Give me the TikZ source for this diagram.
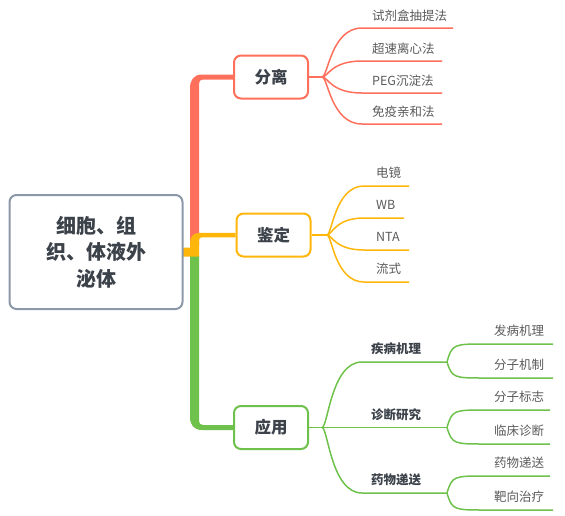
\documentclass[tikz,border=0pt]{standalone}
\usepackage{fontspec}
\setmainfont{Noto Sans CJK SC}
\definecolor{cred}{RGB}{255,112,92}
\definecolor{corg}{RGB}{255,182,10}
\definecolor{cgrn}{RGB}{110,194,76}
\definecolor{cbox}{RGB}{140,152,170}
\definecolor{ctxt}{RGB}{60,66,74}
\definecolor{cleaf}{RGB}{90,90,90}
\begin{document}
\begin{tikzpicture}[x=1pt,y=-1pt,
  mainbox/.style={draw=cbox, line width=2pt, rounded corners=7pt, fill=white, minimum width=173pt, minimum height=114pt, align=center, text=ctxt, font=\fontsize{20}{26.5}\selectfont\bfseries},
  topic/.style={line width=2pt, rounded corners=7pt, fill=white, minimum width=74pt, minimum height=43pt, text=ctxt, font=\fontsize{16.5}{18}\selectfont\bfseries},
  leaf/.style={inner sep=0pt, text=cleaf, font=\fontsize{12.5}{14}\selectfont, anchor=west},
  sub/.style={inner sep=0pt, text=ctxt, font=\fontsize{12.5}{14}\selectfont\bfseries},
  br/.style={line width=1.5pt}
]
\useasboundingbox (0,0) rectangle (565,515);

\node[topic, draw=cred] (fl) at (271,77) {分离};
\node[topic, draw=corg] (jd) at (273.5,235) {鉴定};
\node[topic, draw=cgrn] (yy) at (271,427.5) {应用};

% trunks (filled shapes from the central box to the topic boxes)
\fill[cred] (190,246) -- (190,88) .. controls (190,80) and (194,74.5) .. (202,74.5)
  -- (fl.west |- 0,74.5) -- (fl.west |- 0,79.5) -- (203,79.5)
  .. controls (200.5,79.5) and (199,81) .. (199,83.5) -- (199,246) -- cycle;
\fill[cgrn] (190,256) -- (190,417) .. controls (190,425) and (194,430) .. (202,430)
  -- (yy.west |- 0,430) -- (yy.west |- 0,425) -- (203,425)
  .. controls (200.5,425) and (199,423.5) .. (199,421) -- (199,256) -- cycle;
\fill[corg] (175,247.5) -- (190,247.5) -- (190,243) .. controls (190,237) and (193,232.8) .. (200,232.8)
  -- (jd.west |- 0,232.8) -- (jd.west |- 0,237.3) -- (202,237.3)
  .. controls (200,237.3) and (199,238.5) .. (199,240) -- (199,256.5) -- (175,256.5) -- cycle;

\node[mainbox] (c) at (96,252) {细胞、组\\织、体液外\\泌体};

% red leaves
\coordinate (jf) at (322,77);
\draw[br, cred] (fl.east) -- (jf);
\foreach \y/\e/\t [count=\i] in {28/453/试剂盒抽提法, 61/442/超速离心法, 93/442/PEG沉淀法, 124/442/免疫亲和法} {
  \node[leaf] (f\i) at (372,\y-12) {\t};
  \draw[br, cred] (jf) .. controls (328,77) and (331,\y) .. (362,\y) -- (\e,\y);
}

% orange leaves
\coordinate (jj) at (327,235);
\draw[br, corg] (jd.east) -- (jj);
\foreach \y/\e/\t [count=\i] in {186/409/电镜, 218/404/WB, 250/409/NTA, 282/409/流式} {
  \node[leaf] (d\i) at (376,\y-13) {\t};
  \draw[br, corg] (jj) .. controls (332,235) and (335,\y) .. (364,\y) -- (\e,\y);
}

% green branches
\coordinate (jy) at (322,427.5);
\draw[br, cgrn] (yy.east) -- (jy);
\foreach \y/\t [count=\i] in {362/疾病机理, 427.5/诊断研究, 493/药物递送} {
  \node[sub] (s\i) at (396,\y-13) {\t};
  \coordinate (k\i) at (447,\y);
  \draw[br, cgrn] (jy) .. controls (328,427.5) and (331,\y) .. (362,\y) -- (k\i);
}
\foreach \k/\y/\e/\t [count=\i] in {1/344/553/发病机理, 1/378/553/分子机制, 2/410/550/分子标志, 2/444/550/临床诊断, 3/476/550/药物递送, 3/510/553/靶向治疗} {
  \node[leaf] (g\i) at (494,\y-13) {\t};
  \draw[br, cgrn] (k\k) .. controls (452,{\y-(\y-344)*0}) and (454,\y) .. (485,\y) -- (\e,\y);
}
\end{tikzpicture}
\end{document}
